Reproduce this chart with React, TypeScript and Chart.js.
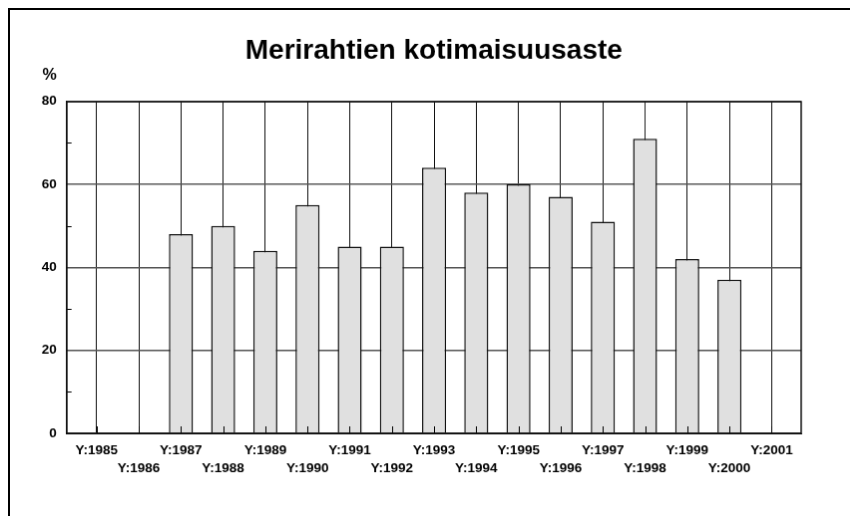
import React, { useEffect, useRef } from "react";
import { Chart, registerables } from "chart.js";

Chart.register(...registerables);

const TITLE = "Merirahtien kotimaisuusaste";
const UNIT = "%";
const YEARS = [1985, 1986, 1987, 1988, 1989, 1990, 1991, 1992, 1993, 1994, 1995, 1996, 1997, 1998, 1999, 2000, 2001];
const VALUES: (number | null)[] = [null, null, 48, 50, 44, 55, 45, 45, 64, 58, 60, 57, 51, 71, 42, 37, null];
const Y_TICKS = [0, 20, 40, 60, 80];
const Y_MINOR = [10, 30, 50, 70];
const LABEL_PREFIX = "Y:";

const FONT = '"Liberation Sans", Arial, sans-serif';

const decor = {
  id: "decor",
  afterDatasetsDraw(chart: any) {
    const { ctx, chartArea, scales } = chart;
    const { left, right, top, bottom } = chartArea;
    const x = scales.x;
    const y = scales.y;
    ctx.save();
    ctx.strokeStyle = "#000";
    ctx.lineWidth = 1;
    ctx.beginPath();
    Y_MINOR.forEach((v) => {
      const py = Math.round(y.getPixelForValue(v)) + 0.5;
      ctx.moveTo(left, py);
      ctx.lineTo(left + 5, py);
    });
    YEARS.forEach((v) => {
      const px = Math.round(x.getPixelForValue(v)) + 0.5;
      ctx.moveTo(px, bottom);
      ctx.lineTo(px, bottom - 7);
    });
    ctx.stroke();
    ctx.lineWidth = 1.5;
    ctx.strokeStyle = "#111";
    ctx.strokeRect(Math.round(left), Math.round(top), Math.round(right - left), Math.round(bottom - top));
    ctx.fillStyle = "#000";
    ctx.font = `bold 16px ${FONT}`;
    ctx.textAlign = "center";
    ctx.textBaseline = "middle";
    ctx.fillText(UNIT, left - 17, top - 26);
    ctx.restore();
  },
};

export default function App() {
  const ref = useRef<HTMLCanvasElement | null>(null);
  useEffect(() => {
    document.documentElement.style.overflow = "hidden";
    const canvas = ref.current;
    if (!canvas) return;
    const data = YEARS.map((yr, i) => ({ x: yr, y: VALUES[i] }));
    const chart = new Chart(canvas, {
      type: "bar",
      data: {
        datasets: [
          {
            data: data as any,
            backgroundColor: "#e0e0e0",
            borderColor: "#111",
            borderWidth: 1.5,
            barPercentage: 0.57,
            categoryPercentage: 1,
          },
        ],
      },
      options: {
        responsive: false,
        animation: false,
        devicePixelRatio: 1,
        layout: { padding: { left: 0, right: 55, top: 0, bottom: 0 } },
        plugins: {
          legend: { display: false },
          tooltip: { enabled: false },
          title: {
            display: true,
            text: TITLE,
            fullSize: false,
            color: "#000",
            font: { family: FONT, size: 28, weight: "bold" },
            padding: { top: 24, bottom: 34.1 },
          },
        },
        scales: {
          x: {
            type: "linear",
            min: 1984.29,
            max: 2001.7,
            offset: false,
            afterBuildTicks: (scale: any) => {
              scale.ticks = YEARS.map((v) => ({ value: v }));
            },
            afterFit: (scale: any) => {
              scale.height = 83;
            },
            grid: { color: "#111", lineWidth: 1, drawTicks: false, offset: false },
            border: { display: true, color: "#000", width: 1 },
            ticks: {
              autoSkip: false,
              maxRotation: 0,
              minRotation: 0,
              padding: 8,
              color: "#000",
              font: { family: FONT, size: 13.5, weight: "bold", lineHeight: "18px" },
              callback: (value: any) => {
                const idx = YEARS.indexOf(Number(value));
                const label = LABEL_PREFIX + value;
                return idx % 2 === 0 ? label : ["", label];
              },
            },
          },
          y: {
            min: 0,
            max: 80,
            afterBuildTicks: (scale: any) => {
              scale.ticks = Y_TICKS.map((v) => ({ value: v }));
            },
            afterFit: (scale: any) => {
              scale.width = 56.7;
            },
            grid: { color: "#555", lineWidth: 1.5, drawTicks: false },
            border: { display: true, color: "#000", width: 1 },
            ticks: {
              padding: 10,
              color: "#000",
              font: { family: FONT, size: 13.5, weight: "bold" },
            },
          },
        },
      },
      plugins: [decor],
    });
    return () => chart.destroy();
  }, []);
  return (
    <canvas
      ref={ref}
      width={848}
      height={508}
      style={{
        display: "block",
        width: "848px",
        height: "508px",
        borderLeft: "2px solid #000",
        borderTop: "2px solid #000",
      }}
    />
  );
}
